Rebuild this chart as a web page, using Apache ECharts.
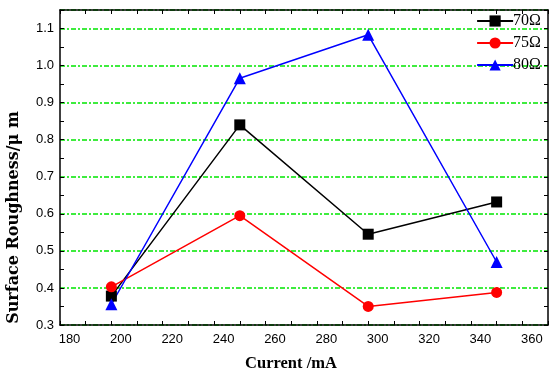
<!DOCTYPE html>
<html>
<head>
<meta charset="utf-8">
<script src="https://cdn.jsdelivr.net/npm/echarts@6/dist/echarts.min.js"></script>
<style>html,body{margin:0;padding:0;background:#fff}#c{width:550px;height:372px}</style>
</head>
<body>
<div id="c"></div>
<script>
var currents = [200, 250, 300, 350];
var r70 = [0.378, 0.840, 0.545, 0.632];
var r75 = [0.403, 0.595, 0.350, 0.388];
var r80 = [0.356, 0.966, 1.083, 0.470];
var names = ['70Ω', '75Ω', '80Ω'];

function pairs(ys){ return currents.map(function(x,i){return [x, ys[i]];}); }

var tickCommon = {show:true, inside:true, length:4, lineStyle:{color:'#000', width:1}};
var minorCommon = {show:true, splitNumber:2, length:4, lineStyle:{color:'#000', width:1}};
var lineCommon = {show:true, lineStyle:{color:'#000', width:1.5}};

var chart = echarts.init(document.getElementById('c'));
chart.setOption({
  animation:false,
  backgroundColor:'#fff',
  grid:{left:60, right:2, top:10, bottom:47, outerBoundsMode:'none', containLabel:false},
  legend:{
    right:4, top:8, orient:'vertical', itemGap:6, itemWidth:36, itemHeight:14,
    textStyle:{fontFamily:'Liberation Serif', fontSize:16, color:'#000', padding:[0,0,0,-5]},
    data:names
  },
  xAxis:[{
    type:'value', min:180, max:370, interval:20,
    axisLine:lineCommon, axisTick:tickCommon, minorTick:minorCommon,
    splitLine:{show:false},
    axisLabel:{color:'#000', fontFamily:'Liberation Sans', fontSize:13, margin:8, padding:[0,0,0,19],
      formatter:function(v){return v<=360?String(v):'';}},
    name:'Current /mA', nameLocation:'middle', nameGap:30,
    nameTextStyle:{fontFamily:'Liberation Serif', fontWeight:'bold', fontSize:16.5, color:'#000', padding:[0,26,0,0]}
  },{
    type:'value', position:'top', min:180, max:370, interval:20,
    axisLine:lineCommon, axisTick:tickCommon, minorTick:minorCommon,
    splitLine:{show:false}, axisLabel:{show:false}
  }],
  yAxis:[{
    type:'value', min:0.3, max:1.15, interval:0.1,
    axisLine:lineCommon, axisTick:tickCommon, minorTick:minorCommon,
    splitLine:{show:true, lineStyle:{color:'#00e600', width:1.5, type:[5,2,2,2]}},
    axisLabel:{color:'#000', fontFamily:'Liberation Sans', fontSize:13, margin:6,
      formatter:function(v){return v<=1.1001?v.toFixed(1):'';}},
    name:'Surface Roughness/μ m', nameLocation:'middle', nameGap:38,
    nameTextStyle:{fontFamily:'DejaVu Serif', fontWeight:'bold', fontSize:16, color:'#000', padding:[0,100,0,0]}
  },{
    type:'value', position:'right', min:0.3, max:1.15, interval:0.1,
    axisLine:lineCommon, axisTick:tickCommon, minorTick:minorCommon,
    splitLine:{show:false}, axisLabel:{show:false}
  }],
  series:[
    {name:names[0], type:'line', data:pairs(r70), symbol:'rect', symbolSize:11,
      itemStyle:{color:'#000'}, lineStyle:{color:'#000', width:1.5}},
    {name:names[1], type:'line', data:pairs(r75), symbol:'circle', symbolSize:11,
      itemStyle:{color:'#ff0000'}, lineStyle:{color:'#ff0000', width:1.5}},
    {name:names[2], type:'line', data:pairs(r80), symbol:'triangle', symbolSize:12,
      itemStyle:{color:'#0000ff'}, lineStyle:{color:'#0000ff', width:1.5}}
  ]
});
</script>
</body>
</html>
